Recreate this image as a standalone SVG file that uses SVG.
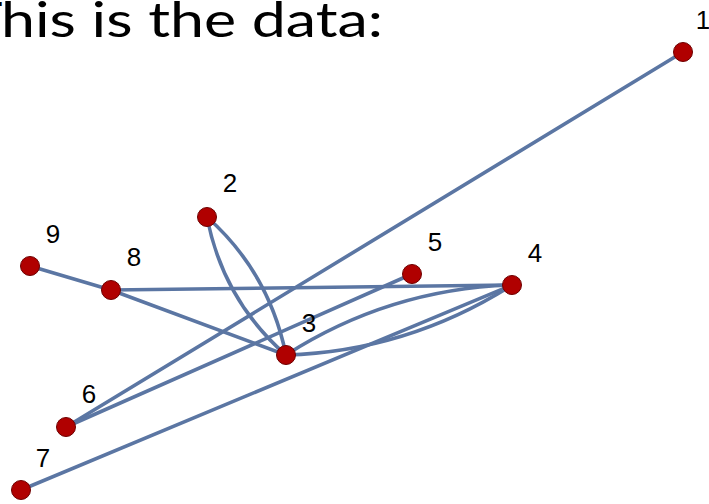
<svg xmlns="http://www.w3.org/2000/svg" width="709" height="504" viewBox="0 0 709 504">
<style>
.e{fill:none;stroke:#5b76a3;stroke-width:3.6;stroke-linecap:round}
.n{fill:#b00000;stroke:#6e0000;stroke-width:1}
.l{font-family:"Liberation Sans",Arial,sans-serif;font-size:26px;fill:#000;text-anchor:middle}
.t{font-family:Lato,"Open Sans","Liberation Sans",sans-serif;font-size:48px;fill:#000}
</style>
<rect width="709" height="504" fill="#fff"/>
<text class="t" y="37"><tspan x="-26">T</tspan><tspan x="1" textLength="382" lengthAdjust="spacingAndGlyphs">his is the data:</tspan></text>
<g id="edges">
<line class="e" x1="683" y1="52" x2="66" y2="427"/>
<line class="e" x1="66" y1="427" x2="412" y2="274"/>
<line class="e" x1="30" y1="266" x2="111" y2="290"/>
<line class="e" x1="111" y1="290" x2="512" y2="285"/>
<line class="e" x1="111" y1="290" x2="286" y2="355"/>
<line class="e" x1="21" y1="490" x2="512" y2="285"/>
<path class="e" d="M207,217 Q223,300 286,355"/>
<path class="e" d="M207,217 Q269,272 286,355"/>
<path class="e" d="M286,355 Q389,289 512,285"/>
<path class="e" d="M286,355 Q408,351 512,285"/>
</g>
<g id="node1"><circle class="n" cx="683" cy="52" r="9.5"/><text class="l" x="703" y="29">1</text></g>
<g id="node2"><circle class="n" cx="207" cy="217" r="9.5"/><text class="l" x="230" y="192">2</text></g>
<g id="node3"><circle class="n" cx="286" cy="355" r="9.5"/><text class="l" x="309" y="332">3</text></g>
<g id="node4"><circle class="n" cx="512" cy="285" r="9.5"/><text class="l" x="535" y="262">4</text></g>
<g id="node5"><circle class="n" cx="412" cy="274" r="9.5"/><text class="l" x="435" y="251">5</text></g>
<g id="node6"><circle class="n" cx="66" cy="427" r="9.5"/><text class="l" x="89" y="403">6</text></g>
<g id="node7"><circle class="n" cx="21" cy="490" r="9.5"/><text class="l" x="43" y="467">7</text></g>
<g id="node8"><circle class="n" cx="111" cy="290" r="9.5"/><text class="l" x="134" y="266">8</text></g>
<g id="node9"><circle class="n" cx="30" cy="266" r="9.5"/><text class="l" x="53" y="243">9</text></g>
</svg>
